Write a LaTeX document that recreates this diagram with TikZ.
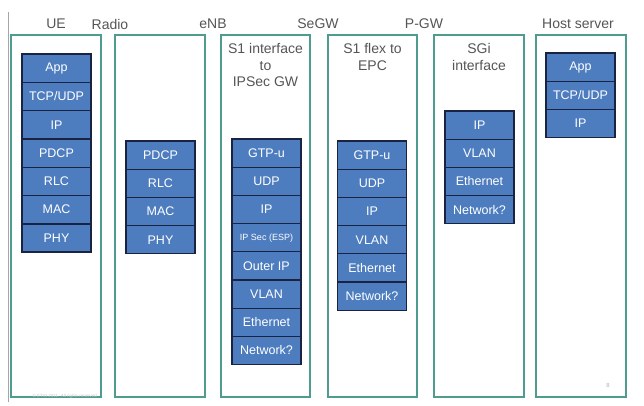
\documentclass[tikz,border=0pt]{standalone}
\usepackage{fontspec}
\setmainfont{Liberation Sans}
\definecolor{panelteal}{HTML}{4E9C90}
\definecolor{layerblue}{HTML}{4D7DBF}
\definecolor{layerline}{HTML}{1A2342}
\definecolor{titlegray}{HTML}{555555}
\tikzset{
  panel/.style={draw=panelteal,line width=1.1pt},
  layer/.style={draw=layerline,line width=1.3pt,fill=layerblue,text=white,
    minimum width=69pt,minimum height=28.2pt,inner sep=0pt,font=\fontsize{12.5}{12.5}\selectfont},
  head/.style={text=titlegray,font=\fontsize{14}{14}\selectfont},
  sub/.style={text=titlegray,align=center,font=\fontsize{14}{16.5}\selectfont,anchor=north}
}
\begin{document}
\begin{tikzpicture}[x=1pt,y=-1pt]
\useasboundingbox (0,0) rectangle (644,406);
%\draw[step=50,gray,very thin] (0,0) grid (644,406); %background grid

\draw[gray!70,line width=0.8pt] (8,12) -- (8,402);

% panels
\draw[panel] (11,35) rectangle (101,397);
\draw[panel] (115,35) rectangle (205,397);
\draw[panel] (221,35) rectangle (310,397);
\draw[panel] (328,35) rectangle (417,397);
\draw[panel] (434,35) rectangle (524,397);
\draw[panel] (536,35) rectangle (626,397);

% headings
\node[head] (ue) at (56,24) {UE};
\node[head] (radio) at (110,24) {Radio};
\node[head] (enb) at (213,24) {eNB};
\node[head] (segw) at (318,24) {SeGW};
\node[head] (pgw) at (424,24) {P-GW};
\node[head] (host) at (578,24) {Host server};

\node[sub] (s1ipsec) at (265.5,40) {S1 interface\\to\\IPSec GW};
\node[sub] (s1flex) at (372.5,40) {S1 flex to\\EPC};
\node[sub] (sgi) at (479,40) {SGi\\interface};

% UE stack
\node[layer] (ueapp) at (56.5,68.15) {App};
\node[layer] (uetcp) at (56.5,96.45) {TCP/UDP};
\node[layer] (ueip) at (56.5,124.75) {IP};
\node[layer] (uepdcp) at (56.5,153.05) {PDCP};
\node[layer] (uerlc) at (56.5,181.35) {RLC};
\node[layer] (uemac) at (56.5,209.65) {MAC};
\node[layer] (uephy) at (56.5,237.95) {PHY};

% eNB radio side
\node[layer] (enbpdcp) at (160.5,155.1) {PDCP};
\node[layer] (enbrlc) at (160.5,183.3) {RLC};
\node[layer] (enbmac) at (160.5,211.5) {MAC};
\node[layer] (enbphy) at (160.5,239.7) {PHY};

% S1 to IPSec GW
\node[layer] (secgtp) at (266.5,153.1) {GTP-u};
\node[layer] (secudp) at (266.5,181.3) {UDP};
\node[layer] (secip) at (266.5,209.5) {IP};
\node[layer,font=\fontsize{9}{9}\selectfont] (secesp) at (266.5,237.7) {IP Sec (ESP)};
\node[layer] (secouter) at (266.5,265.9) {Outer IP};
\node[layer] (secvlan) at (266.5,294.1) {VLAN};
\node[layer] (seceth) at (266.5,322.3) {Ethernet};
\node[layer] (secnet) at (266.5,350.5) {Network?};

% S1 flex to EPC
\node[layer] (flexgtp) at (372,155.1) {GTP-u};
\node[layer] (flexudp) at (372,183.3) {UDP};
\node[layer] (flexip) at (372,211.5) {IP};
\node[layer] (flexvlan) at (372,239.7) {VLAN};
\node[layer] (flexeth) at (372,267.9) {Ethernet};
\node[layer] (flexnet) at (372,296.1) {Network?};

% SGi
\node[layer] (sgiip) at (479.5,125.1) {IP};
\node[layer] (sgivlan) at (479.5,153.3) {VLAN};
\node[layer] (sgieth) at (479.5,181.5) {Ethernet};
\node[layer] (sginet) at (479.5,209.7) {Network?};

% host server
\node[layer] (hostapp) at (580.5,67.1) {App};
\node[layer] (hosttcp) at (580.5,95.3) {TCP/UDP};
\node[layer] (hostip) at (580.5,123.5) {IP};

% footer
\node[text=gray!45,font=\fontsize{4.5}{4.5}\selectfont,anchor=west] (copy) at (29,396) {\textcopyright{} ETSI 2011. All rights reserved};
\node[text=gray!60,font=\fontsize{6}{6}\selectfont] (page) at (608,385) {8};
\end{tikzpicture}
\end{document}
